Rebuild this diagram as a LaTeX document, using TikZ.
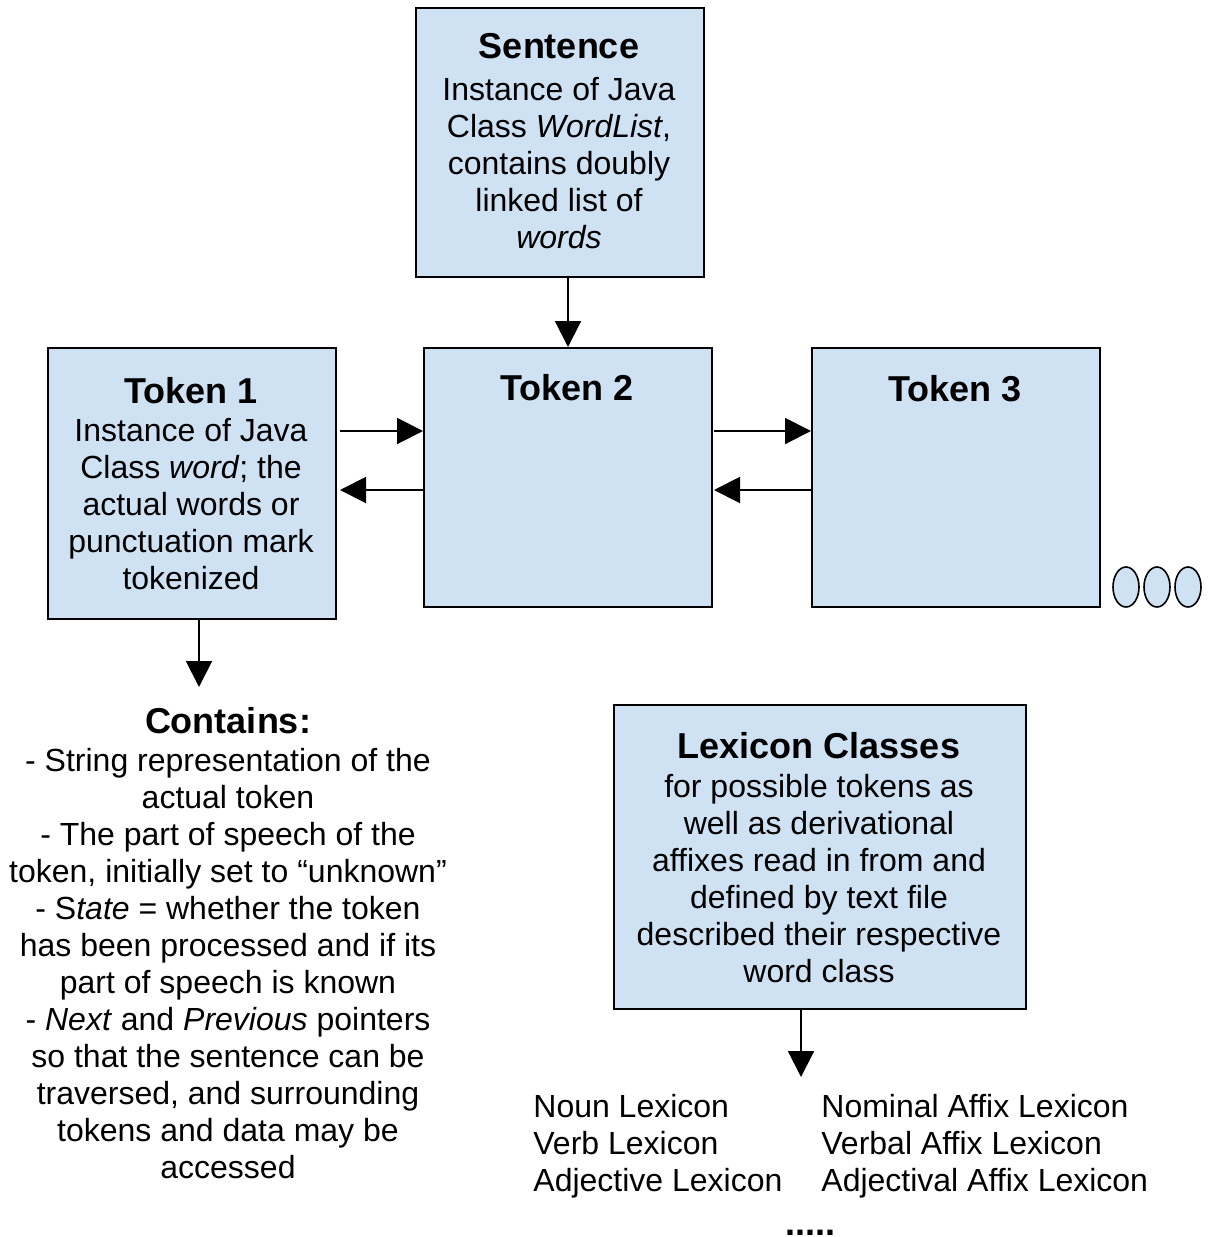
\documentclass[tikz,border=0pt]{standalone}
\usepackage{fontspec}
\setmainfont{Liberation Sans}
\usetikzlibrary{arrows.meta,shapes.geometric}
\definecolor{boxblue}{RGB}{207,226,243}
\begin{document}
\begin{tikzpicture}[x=0.5pt,y=-0.5pt,
  box/.style={draw=black, line width=1pt, fill=boxblue, anchor=north west,
    inner sep=0pt, minimum width=144pt},
  ttl/.style={font=\fontsize{18}{21}\selectfont\bfseries, anchor=base, inner sep=0pt},
  % multi-line texts are placed by the baseline of their last line
  body/.style={font=\fontsize{16}{18.5}\selectfont, align=center, anchor=base, inner sep=0pt},
  plain/.style={font=\fontsize{16}{18.5}\selectfont, align=left, anchor=base west, inner sep=0pt},
  link/.style={line width=1pt, -{Triangle[length=13pt,width=13pt]}},
  more/.style={draw=black, line width=0.8pt, fill=boxblue, ellipse, inner sep=0pt,
    minimum width=13pt, minimum height=20pt}
]
\useasboundingbox[fill=white] (0,0) rectangle (1212,1237);

% boxes
\node[box, minimum height=134.5pt] (sent) at (415,7) {};
\node[box, minimum height=135.5pt] (t1) at (47,347) {};
\node[box, minimum height=129.5pt] (t2) at (423,347) {};
\node[box, minimum height=129.5pt] (t3) at (811,347) {};
\node[box, minimum width=206pt, minimum height=152pt] (lex) at (613,704) {};

% continuation marks
\node[more] (e1) at (1126,587) {};
\node[more] (e2) at (1157,587) {};
\node[more] (e3) at (1188,587) {};

% texts
\node[ttl] (sentT) at (559,58) {Sentence};
\node[body] (sentB) at (559,248) {Instance of Java\\Class \textit{WordList},\\contains doubly\\linked list of\\\textit{words}};

\node[ttl] (t1T) at (191,403) {Token 1};
\node[body] (t1B) at (191,589) {Instance of Java\\Class \textit{word}; the\\actual words or\\punctuation mark\\tokenized};

\node[ttl] (t2T) at (567,400) {Token 2};
\node[ttl] (t3T) at (955,401) {Token 3};

\node[ttl] (contT) at (228,733) {Contains:};
\node[body] (contB) at (228,1178) {- String representation of the\\actual token\\- The part of speech of the\\token, initially set to “unknown”\\- S\textit{tate} = whether the token\\has been processed and if its\\part of speech is known\\- \textit{Next} and \textit{Previous} pointers\\so that the sentence can be\\traversed, and surrounding\\tokens and data may be\\accessed};

\node[ttl] (lexT) at (819,758) {Lexicon Classes};
\node[body] (lexB) at (819,982) {for possible tokens as\\well as derivational\\affixes read in from and\\defined by text file\\described their respective\\word class};

\node[plain] (lexL) at (533,1191) {Noun Lexicon\\Verb Lexicon\\Adjective Lexicon};
\node[plain] (lexR) at (821,1191) {Nominal Affix Lexicon\\Verbal Affix Lexicon\\Adjectival Affix Lexicon};
\node[ttl] (dots) at (810,1235) {.....};

% connectors
\draw[link] (sent.south -| t2.north) -- (t2.north);

\coordinate (p12) at (340,431);
\draw[link] (p12) -- (p12 -| t2.west);
\coordinate (q21) at (340,490);
\draw[link] (t2.west |- q21) -- (q21);

\coordinate (p23) at (714,431);
\draw[link] (p23) -- (p23 -| t3.west);
\coordinate (q32) at (714,490);
\draw[link] (t3.west |- q32) -- (q32);

\coordinate (c1) at (199,687);
\draw[link] (t1.south -| c1) -- (c1);
\coordinate (c2) at (801,1077);
\draw[link] (lex.south -| c2) -- (c2);
\end{tikzpicture}
\end{document}
